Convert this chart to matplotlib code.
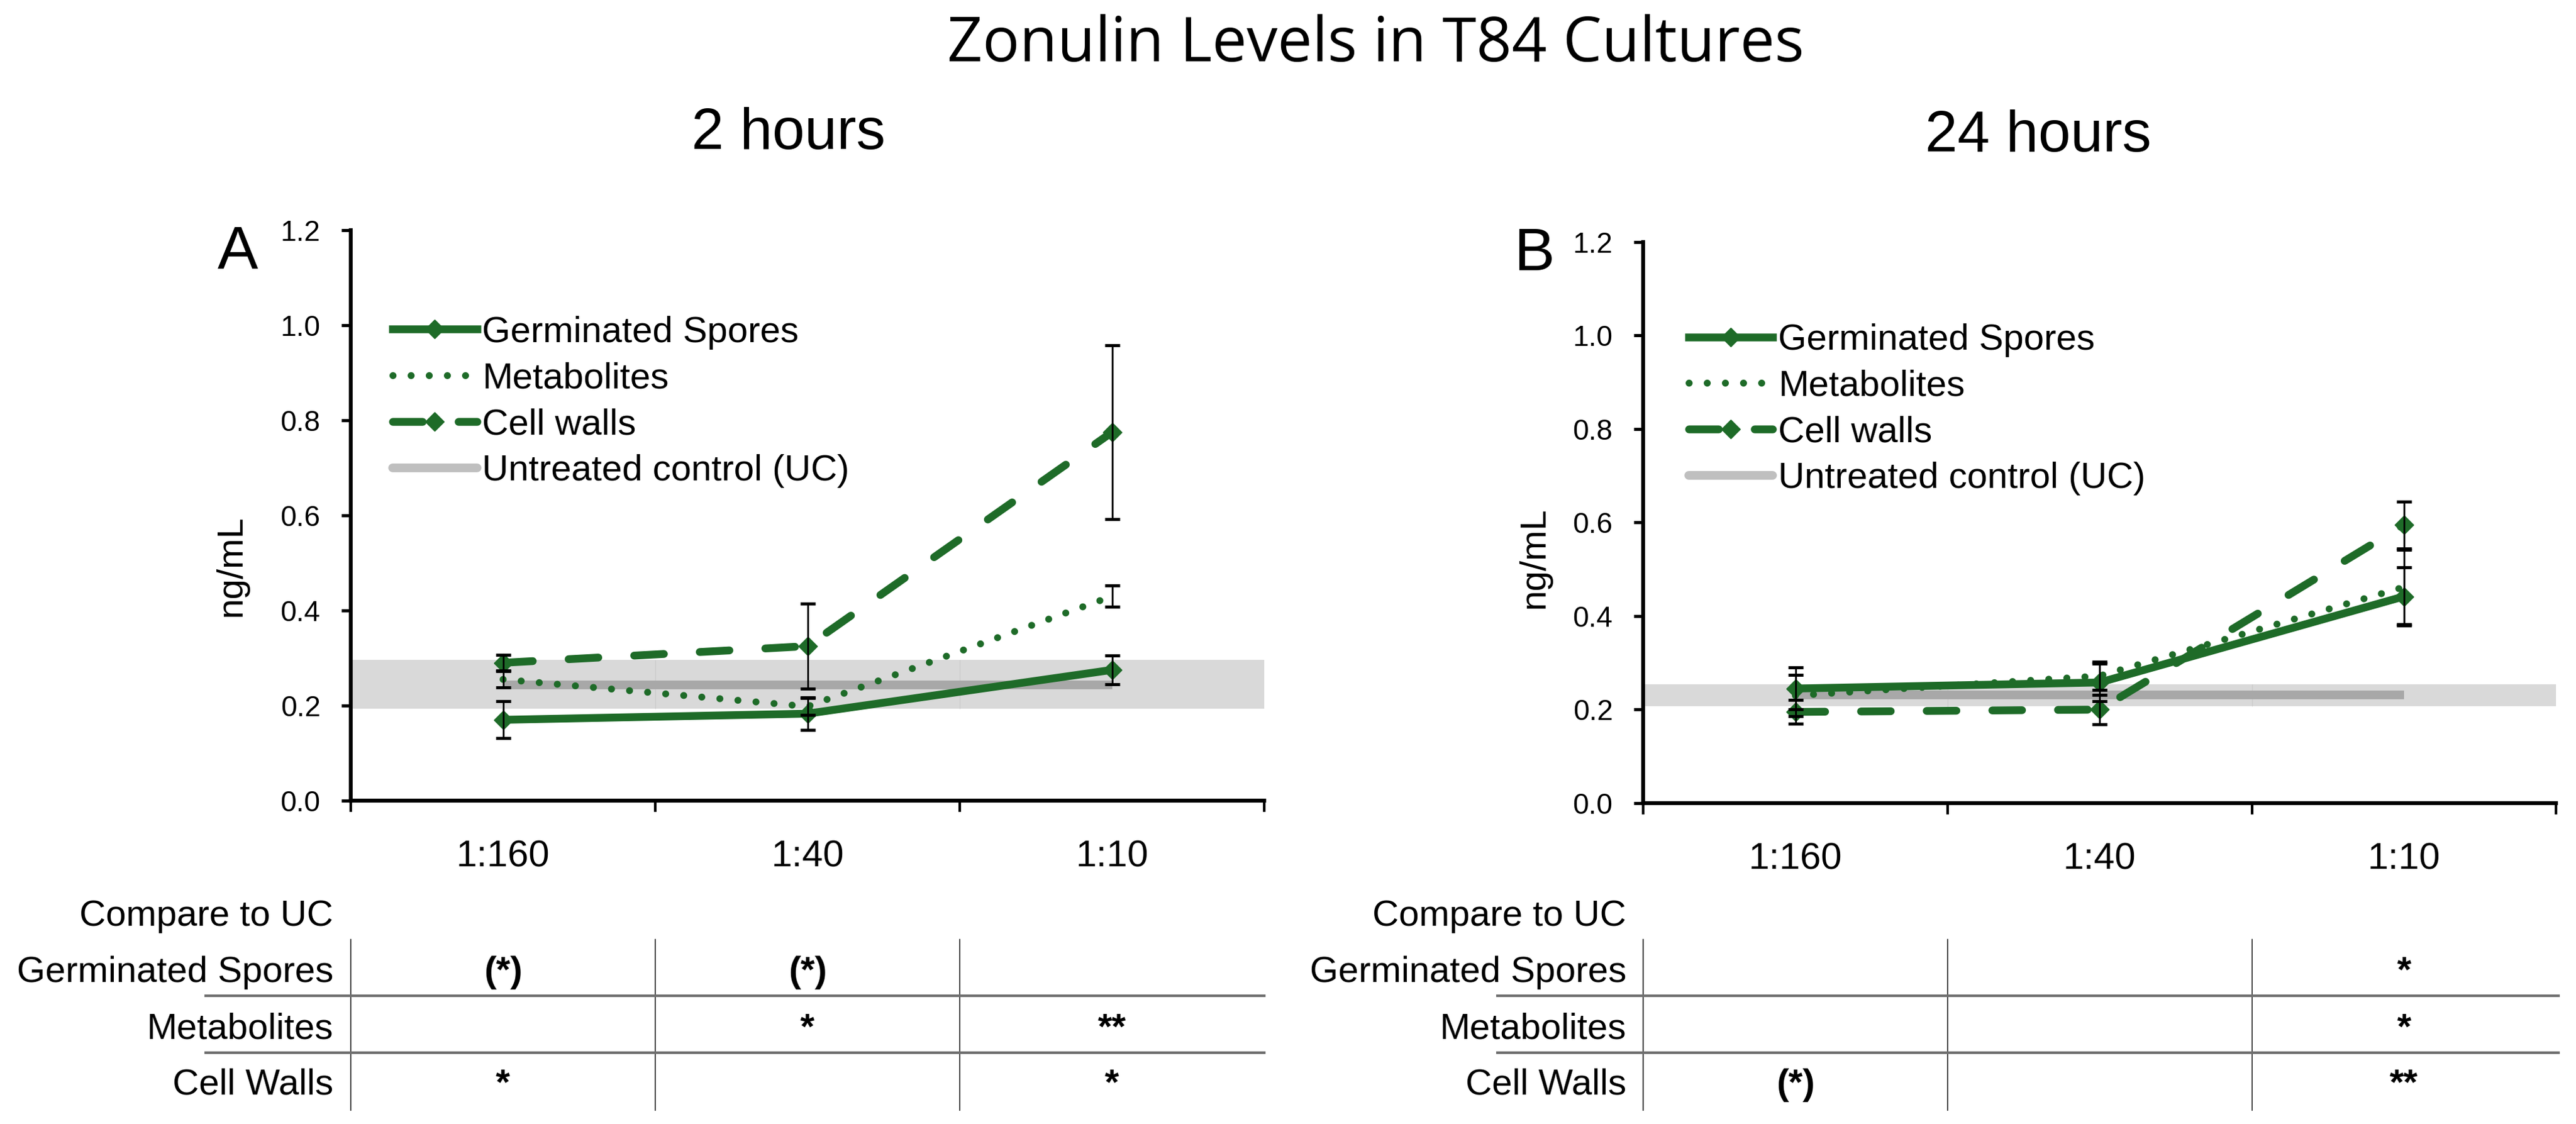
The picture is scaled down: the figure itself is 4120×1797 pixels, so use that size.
import matplotlib
matplotlib.use('Agg')
import matplotlib.pyplot as plt
import matplotlib.transforms as mtransforms
from matplotlib.lines import Line2D

# data
categories = ['1:160', '1:40', '1:10']

gs_2h = [0.170, 0.183, 0.275]
gs_2h_err = [0.039, 0.034, 0.030]
met_2h = [0.255, 0.198, 0.430]
met_2h_err = [0.017, 0.018, 0.022]
cw_2h = [0.290, 0.325, 0.775]
cw_2h_err = [0.016, 0.090, 0.183]
uc_2h = 0.244
uc_2h_band = (0.194, 0.296)

gs_24h = [0.245, 0.258, 0.442]
gs_24h_err = [0.045, 0.040, 0.062]
met_24h = [0.230, 0.272, 0.462]
met_24h_err = [0.044, 0.030, 0.080]
cw_24h = [0.195, 0.200, 0.595]
cw_24h_err = [0.025, 0.032, 0.050]
uc_24h = 0.231
uc_24h_band = (0.207, 0.254)

row_labels = ['Germinated Spores', 'Metabolites', 'Cell Walls']
sig_2h = [['(*)', '(*)', ''], ['', '*', '**'], ['*', '', '*']]
sig_24h = [['', '', '*'], ['', '', '*'], ['(*)', '', '**']]

GREEN = '#1e6b28'
SANS = 'Liberation Sans'

fig = plt.figure(figsize=(41.2, 17.97), dpi=100)


def draw_panel(ax, gs, gs_err, met, met_err, cw, cw_err, uc, band,
               leg_anchor, ylab_xy):
    x = list(range(len(categories)))
    ax.set_xlim(-0.5, 2.5)
    ax.set_ylim(0, 1.2)

    # untreated control band and line
    ax.axhspan(band[0], band[1], color='#d9d9d9', lw=0, zorder=1)
    ax.vlines([0.5, 1.5], band[0], band[1], color='#cccccc', lw=1, zorder=1)
    ax.plot([x[0], x[-1]], [uc, uc], color='#a8a8a8', lw=10,
            solid_capstyle='butt', zorder=2)

    ax.plot(x, gs, color=GREEN, lw=9, marker='D', ms=15,
            solid_joinstyle='round', label='Germinated Spores', zorder=3)
    ax.plot(x, met, color=GREEN, lw=8, ls=(0, (0.01, 2.6)),
            dash_capstyle='round', label='Metabolites', zorder=3)
    ax.plot(x, cw, color=GREEN, lw=9, ls=(0, (3.8, 4.6)), marker='D', ms=15,
            dash_capstyle='round', label='Cell walls', zorder=3)

    for vals, errs in [(gs, gs_err), (met, met_err), (cw, cw_err)]:
        ax.errorbar(x, vals, yerr=errs, fmt='none', ecolor='black',
                    elinewidth=2, capsize=8.5, capthick=3.5, zorder=5)

    handles, labels = ax.get_legend_handles_labels()
    handles.append(Line2D([], [], color='#bfbfbf', lw=10,
                          solid_capstyle='round'))
    labels.append('Untreated control (UC)')
    ax.legend(handles, labels, loc='upper left', bbox_to_anchor=leg_anchor,
              frameon=False, borderpad=0, borderaxespad=0, handlelength=2.3,
              handletextpad=0.15, labelspacing=0.34,
              prop={'family': SANS, 'size': 42})

    for side in ['top', 'right']:
        ax.spines[side].set_visible(False)
    for side in ['left', 'bottom']:
        ax.spines[side].set_linewidth(4.5)

    ax.set_yticks([0, 0.2, 0.4, 0.6, 0.8, 1.0, 1.2])
    ax.set_yticklabels(['0.0', '0.2', '0.4', '0.6', '0.8', '1.0', '1.2'],
                       family=SANS, fontsize=33)
    ax.tick_params(axis='y', direction='out', length=11, width=3.6, pad=24)

    ax.set_xticks(x)
    ax.set_xticklabels(categories, family=SANS, fontsize=43)
    ax.set_xticks([-0.5, 0.5, 1.5, 2.5], minor=True)
    ax.tick_params(axis='x', which='major', length=0, pad=45)
    ax.tick_params(axis='x', which='minor', direction='out', length=13,
                   width=3)

    ax.set_ylabel('ng/mL', family=SANS, fontsize=42)
    ax.yaxis.set_label_coords(*ylab_xy)


def draw_table(ax, sig, label_x, line_x0, line_x1):
    trans = mtransforms.blended_transform_factory(ax.transData, fig.transFigure)
    baselines = [0.1263, 0.0762, 0.0262]
    fig.text(label_x, 0.1764, 'Compare to UC', ha='right', va='baseline',
             family=SANS, fontsize=42)
    for label, row, yb in zip(row_labels, sig, baselines):
        fig.text(label_x, yb, label, ha='right', va='baseline',
                 family=SANS, fontsize=42)
        for i, s in enumerate(row):
            if s:
                ax.text(i, yb, s, transform=trans, ha='center', va='baseline',
                        family=SANS, fontsize=42, fontweight='bold')
    for yl in [0.1141, 0.0634]:
        fig.add_artist(Line2D([line_x0, line_x1], [yl, yl], color='#6f6f6f',
                              lw=3, transform=fig.transFigure))
    for xb in [-0.5, 0.5, 1.5]:
        ln = Line2D([xb, xb], [0.0122, 0.1642], color='#222222', lw=1.2,
                    transform=trans)
        ln.set_clip_on(False)
        ax.add_artist(ln)


ax_a = fig.add_axes([0.1362, 0.2877, 0.3546, 0.5075])
ax_b = fig.add_axes([0.6379, 0.2855, 0.3544, 0.4992])

draw_panel(ax_a, gs_2h, gs_2h_err, met_2h, met_2h_err, cw_2h, cw_2h_err,
           uc_2h, uc_2h_band, (0.046, 0.85), (-0.112, 0.411))
draw_panel(ax_b, gs_24h, gs_24h_err, met_24h, met_24h_err, cw_24h, cw_24h_err,
           uc_24h, uc_24h_band, (0.05, 0.855), (-0.101, 0.437))

draw_table(ax_a, sig_2h, 0.1294, 0.0799, 0.4908)
draw_table(ax_b, sig_24h, 0.6313, 0.5813, 0.9932)

fig.text(0.534, 0.9455, 'Zonulin Levels in T84 Cultures', ha='center',
         va='baseline', family='Open Sans', fontsize=71)
fig.text(0.306, 0.8676, '2 hours', ha='center', va='baseline',
         family=SANS, fontsize=67)
fig.text(0.7913, 0.8653, '24 hours', ha='center', va='baseline',
         family=SANS, fontsize=67)
fig.text(0.0845, 0.7618, 'A', ha='left', va='baseline', family=SANS,
         fontsize=70)
fig.text(0.5879, 0.7596, 'B', ha='left', va='baseline', family=SANS,
         fontsize=70)

fig.savefig('out.png', dpi=100, facecolor='white')
